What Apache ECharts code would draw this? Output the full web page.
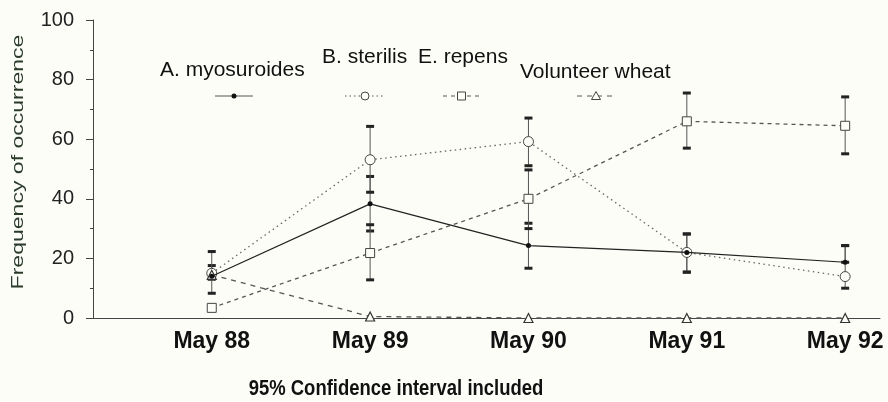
<!DOCTYPE html>
<html>
<head>
<meta charset="utf-8">
<script src="https://cdn.jsdelivr.net/npm/echarts@6/dist/echarts.min.js"></script>
<style>
html,body{margin:0;padding:0;background:#fdfdf7;}
#chart{width:888px;height:402px;}
</style>
</head>
<body>
<div id="chart"></div>
<script>
// ---- data ----
const categories = ['May 88', 'May 89', 'May 90', 'May 91', 'May 92'];
const seriesNames = ['A. myosuroides', 'B. sterilis', 'E. repens', 'Volunteer wheat'];
const yTicks = [0, 20, 40, 60, 80, 100];

const myosuroides = [14, 38.3, 24.3, 22, 18.7];
const sterilis    = [15, 53.1, 59.2, 22, 13.9];
const repens      = [3.4, 21.8, 40, 66, 64.5];
const wheat       = [14.5, 0.5, 0, 0, 0];

// 95% confidence limits (null = none drawn)
const myoLow   = [13, 29.2, 16.7, 15.4, 18.7];
const myoHigh  = [17.6, 47.5, 31.8, 28.2, 24.3];
const sterLow  = [8.3, 42.2, 51.1, 15.4, 10];
const sterHigh = [22.3, 64.3, 67.1, 28.2, 24.3];
const repLow   = [null, 12.8, 30, 57, 55.1];
const repHigh  = [null, 31.3, 49.7, 75.5, 74.2];

const titleText = '95% Confidence interval included';
const yName = 'Frequency of occurrence';

// ---- build ----
const toXY = arr => arr.map((v, i) => [i, v]);
const errData = [];
[[myoLow, myoHigh], [sterLow, sterHigh], [repLow, repHigh]].forEach(([lo, hi]) => {
  lo.forEach((l, i) => { if (l != null && hi[i] != null) errData.push([i, l, hi[i]]); });
});

const BG = '#fdfdf7';
const chart = echarts.init(document.getElementById('chart'), null, {renderer: 'canvas'});

const font = 'Liberation Sans, Arial, sans-serif';

function legendItem(x1, x2, y, dash, symbol, textX, textY, label) {
  const mid = (x1 + x2) / 2;
  const els = [
    {type: 'line', shape: {x1: x1, y1: y, x2: x2, y2: y},
     style: {stroke: '#555', lineWidth: 1, lineDash: dash}},
  ];
  if (symbol === 'dot') els.push({type: 'circle', shape: {cx: mid, cy: y, r: 2.5}, style: {fill: '#111'}});
  if (symbol === 'circle') els.push({type: 'circle', shape: {cx: mid, cy: y, r: 4}, style: {fill: BG, stroke: '#444', lineWidth: 1}});
  if (symbol === 'rect') els.push({type: 'rect', shape: {x: mid - 4, y: y - 4, width: 8, height: 8}, style: {fill: BG, stroke: '#444', lineWidth: 1}});
  if (symbol === 'tri') els.push({type: 'polygon', shape: {points: [[mid, y - 4.5], [mid - 4.5, y + 3.5], [mid + 4.5, y + 3.5]]}, style: {fill: BG, stroke: '#444', lineWidth: 1}});
  els.push({type: 'text', x: textX, y: textY,
    style: {text: label, fontSize: 21, fontFamily: font, fill: '#111', textAlign: 'left', textVerticalAlign: 'middle'}});
  return els;
}

const graphics = [].concat(
  legendItem(215, 253, 96, null, 'dot', 160, 70, seriesNames[0]),
  legendItem(345, 385, 96, [1.5, 3], 'circle', 322, 57, seriesNames[1]),
  legendItem(443, 480, 96, [4, 4], 'rect', 418, 57, seriesNames[2]),
  legendItem(577, 615, 96, [5, 5], 'tri', 520, 72, seriesNames[3]),
  [
    {type: 'text', x: 396, y: 389, scaleX: 0.84,
     style: {text: titleText, fontSize: 22, fontWeight: 'bold', fontFamily: font, fill: '#111', textAlign: 'center', textVerticalAlign: 'middle'}},
    {type: 'text', x: 19, y: 162, rotation: Math.PI / 2, scaleX: 1.44,
     style: {text: yName, fontSize: 16, fontFamily: font, fill: '#2a3b2a', textAlign: 'center', textVerticalAlign: 'middle'}}
  ]
);

const option = {
  backgroundColor: BG,
  animation: false,
  grid: {left: 93, right: 8, top: 20, bottom: 84},
  xAxis: {
    type: 'value', min: -0.75, max: 4.22,
    splitLine: {show: false},
    axisLine: {show: true, onZero: false, lineStyle: {color: '#444', width: 1}},
    axisTick: {show: false},
    axisLabel: {
      customValues: [0, 1, 2, 3, 4],
      formatter: v => categories[Math.round(v)] || '',
      fontSize: 23, fontWeight: 'bold', fontFamily: font, color: '#111', margin: 12
    }
  },
  yAxis: {
    type: 'value', min: 0, max: 100, interval: 20,
    splitLine: {show: false},
    axisLine: {show: true, onZero: false, lineStyle: {color: '#444', width: 1}},
    axisTick: {show: true, length: 7, lineStyle: {color: '#444'}},
    minorTick: {show: true, splitNumber: 2, length: 3, lineStyle: {color: '#444'}},
    axisLabel: {fontSize: 20, fontFamily: font, color: '#222', margin: 19,
      formatter: v => yTicks.includes(v) ? String(v) : ''}
  },
  series: [
    {
      name: seriesNames[0], type: 'line', data: toXY(myosuroides), z: 4,
      lineStyle: {color: '#222', width: 1.2},
      symbol: 'circle', symbolSize: 5, itemStyle: {color: '#111'}
    },
    {
      name: seriesNames[1], type: 'line', data: toXY(sterilis), z: 3,
      lineStyle: {color: '#666', width: 1.3, type: [1.5, 3.5]},
      symbol: 'circle', symbolSize: 10,
      itemStyle: {color: BG, borderColor: '#444', borderWidth: 1}
    },
    {
      name: seriesNames[2], type: 'line', data: toXY(repens), z: 3,
      lineStyle: {color: '#555', width: 1.3, type: [4, 4]},
      symbol: 'rect', symbolSize: 9,
      itemStyle: {color: BG, borderColor: '#444', borderWidth: 1}
    },
    {
      name: seriesNames[3], type: 'line', data: toXY(wheat), z: 3, clip: false,
      lineStyle: {color: '#555', width: 1.3, type: [5, 5]},
      symbol: 'triangle', symbolSize: 9,
      itemStyle: {color: BG, borderColor: '#333', borderWidth: 1.2}
    },
    {
      name: 'CI', type: 'custom', data: errData, z: 2,
      renderItem: function (params, api) {
        const x = api.value(0);
        const lo = api.coord([x, api.value(1)]);
        const hi = api.coord([x, api.value(2)]);
        const hw = 4;
        return {
          type: 'group',
          children: [
            {type: 'line', shape: {x1: lo[0], y1: lo[1], x2: hi[0], y2: hi[1]}, style: {stroke: '#555', lineWidth: 1}},
            {type: 'rect', shape: {x: lo[0] - hw, y: lo[1] - 1.5, width: hw * 2, height: 3}, style: {fill: '#222'}},
            {type: 'rect', shape: {x: hi[0] - hw, y: hi[1] - 1.5, width: hw * 2, height: 3}, style: {fill: '#222'}}
          ]
        };
      }
    }
  ],
  graphic: graphics
};
chart.setOption(option);
</script>
</body>
</html>
